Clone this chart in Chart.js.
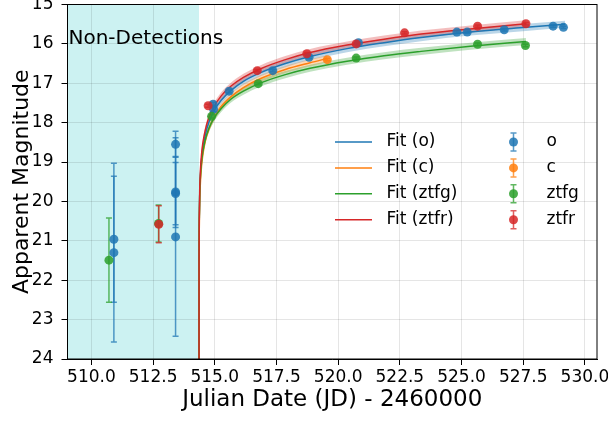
<!DOCTYPE html>
<html lang="en">
<head>
<meta charset="utf-8">
<title>Light curve - power-law rise fit</title>
<script src="https://cdn.jsdelivr.net/npm/chart.js@4.4.1/dist/chart.umd.min.js"></script>
<style>
	html, body { margin: 0; background: #fff; }
	#wrap { width: 608px; height: 423px; }
</style>
</head>
<body>
<div id="wrap"><canvas id="lc"></canvas></div>
<script>
// x is JD - 2460000, y is apparent magnitude (brighter is up)
const t0 = 514.36;   // fitted first-light epoch, everything left of it is non-detections
const xTicks = [510.0, 512.5, 515.0, 517.5, 520.0, 522.5, 525.0, 527.5, 530.0];
const yTicks = [15, 16, 17, 18, 19, 20, 21, 22, 23, 24];

// photometry per filter (early points with big bars are the non-detections)
const oT   = [510.91, 510.91, 513.41, 513.41, 513.41, 513.41, 514.93, 514.95, 515.58, 517.35, 518.82, 520.82, 524.81, 525.23, 526.73, 528.71, 529.13];
const oMag = [20.96, 21.30, 18.55, 19.76, 19.80, 20.90, 17.53, 17.66, 17.20, 16.68, 16.34, 15.97, 15.70, 15.70, 15.64, 15.55, 15.58];
const oErr = [1.60, 2.27, 0.33, 0.90, 0.79, 2.52, 0.05, 0.06, 0.04, 0.03, 0.03, 0.03, 0.03, 0.03, 0.03, 0.03, 0.03];

const cT   = [519.56];
const cMag = [16.40];
const cErr = [0.03];

const gT   = [510.71, 512.72, 514.87, 516.76, 520.73, 525.65, 527.59];
const gMag = [21.49, 20.56, 17.84, 17.01, 16.36, 16.01, 16.04];
const gErr = [1.07, 0.47, 0.04, 0.03, 0.03, 0.03, 0.03];

const rT   = [512.73, 514.73, 516.72, 518.73, 520.73, 522.69, 525.65, 527.61];
const rMag = [20.58, 17.57, 16.68, 16.25, 16.00, 15.72, 15.55, 15.49];
const rErr = [0.47, 0.04, 0.03, 0.03, 0.03, 0.03, 0.03, 0.03];

// fitted curves, sampled densely right after t0 where they shoot up
const fitT = [514.36, 514.362, 514.37, 514.39, 514.42, 514.46, 514.51, 514.61, 514.76, 514.96, 515.26, 515.66, 516.16, 516.86, 517.86, 518.86, 520.36, 521.86, 523.36, 525.36, 527.61, 529.20];
const fitO = [26, 21.65, 20.54, 19.78, 19.30, 18.95, 18.67, 18.32, 17.99, 17.71, 17.43, 17.18, 16.95, 16.73, 16.50, 16.32, 16.12, 15.97, 15.84, 15.70, 15.58, 15.50];
const fitCT = [514.36, 514.362, 514.37, 514.39, 514.42, 514.46, 514.51, 514.61, 514.76, 514.96, 515.26, 515.66, 516.16, 516.86, 517.86, 518.86, 519.56];
const fitC = [26, 21.84, 20.72, 19.96, 19.48, 19.12, 18.84, 18.48, 18.16, 17.88, 17.59, 17.34, 17.11, 16.88, 16.65, 16.48, 16.37];
const fitG = [26, 21.48, 20.47, 19.78, 19.34, 19.02, 18.76, 18.44, 18.15, 17.89, 17.64, 17.40, 17.20, 16.99, 16.78, 16.62, 16.44, 16.30, 16.19, 16.06, 15.94];
const fitR = [26, 21.49, 20.39, 19.64, 19.17, 18.82, 18.54, 18.20, 17.87, 17.60, 17.32, 17.07, 16.85, 16.63, 16.40, 16.22, 16.03, 15.88, 15.75, 15.62, 15.49];
const fitSigma = 0.09;   // half width of the fit uncertainty band, mag

const filters = [
	{ name: 'o',    rgb: '31,119,180', t: oT, mag: oMag, err: oErr, ft: fitT,  fm: fitO },
	{ name: 'c',    rgb: '255,127,14', t: cT, mag: cMag, err: cErr, ft: fitCT, fm: fitC },
	{ name: 'ztfg', rgb: '44,160,44',  t: gT, mag: gMag, err: gErr, ft: fitT,  fm: fitG },
	{ name: 'ztfr', rgb: '214,39,40',  t: rT, mag: rMag, err: rErr, ft: fitT,  fm: fitR }
];

const FONT = 'DejaVu Sans';
Chart.defaults.font.family = FONT;
Chart.defaults.color = '#000';

function pairs(xs, ys, shift) {
	return ys.map((v, i) => ({ x: xs[i], y: v + (shift || 0) }));
}

// lower order is painted later, so later filters (ztfr) end up on top
const datasets = [];
filters.forEach((f, k) => {
	// band: upper edge then lower edge filled back to it
	datasets.push({
		type: 'line', data: pairs(f.ft, f.fm, -fitSigma), borderWidth: 0, pointRadius: 0,
		cubicInterpolationMode: 'monotone', fill: false, order: 30 - k
	});
	datasets.push({
		type: 'line', data: pairs(f.ft, f.fm, fitSigma), borderWidth: 0, pointRadius: 0,
		cubicInterpolationMode: 'monotone', fill: '-1', backgroundColor: `rgba(${f.rgb},0.3)`, order: 30 - k
	});
});
filters.forEach((f, k) => {
	datasets.push({
		type: 'line', label: `Fit (${f.name})`, data: pairs(f.ft, f.fm), borderColor: `rgb(${f.rgb})`,
		borderWidth: 1.5, pointRadius: 0, cubicInterpolationMode: 'monotone', fill: false, order: 20 - k
	});
});
filters.forEach((f, k) => {
	datasets.push({
		type: 'scatter', label: f.name, data: pairs(f.t, f.mag), errors: f.err,
		errorColor: `rgba(${f.rgb},0.75)`, pointRadius: 4.5, borderWidth: 0,
		backgroundColor: `rgba(${f.rgb},0.85)`, order: 10 - k
	});
});

// cyan span for the non-detection window, under the grid
const spanPlugin = {
	id: 'span',
	beforeDraw(chart) {
		const { ctx, chartArea: a, scales: { x } } = chart;
		ctx.save();
		ctx.fillStyle = 'rgba(0,191,191,0.2)';
		ctx.fillRect(a.left, a.top, x.getPixelForValue(t0) - a.left, a.bottom - a.top);
		ctx.restore();
	}
};

const errorBarPlugin = {
	id: 'errorBars',
	beforeDatasetsDraw(chart) {
		const { ctx, chartArea: a, scales: { x, y } } = chart;
		ctx.save();
		ctx.beginPath();
		ctx.rect(a.left, a.top, a.right - a.left, a.bottom - a.top);
		ctx.clip();
		ctx.lineWidth = 1.5;
		chart.data.datasets.forEach(ds => {
			if (!ds.errors) return;
			ctx.strokeStyle = ds.errorColor;
			ds.data.forEach((p, j) => {
				const px = x.getPixelForValue(p.x);
				const top = y.getPixelForValue(p.y - ds.errors[j]);
				const bot = y.getPixelForValue(p.y + ds.errors[j]);
				ctx.beginPath();
				ctx.moveTo(px, top); ctx.lineTo(px, bot);
				ctx.moveTo(px - 3, top); ctx.lineTo(px + 3, top);
				ctx.moveTo(px - 3, bot); ctx.lineTo(px + 3, bot);
				ctx.stroke();
			});
		});
		ctx.restore();
	}
};

// frame, span label and the two column legend inside the axes
const overlayPlugin = {
	id: 'overlay',
	afterDraw(chart) {
		const { ctx, chartArea: a } = chart;
		ctx.save();
		ctx.strokeStyle = '#000';
		ctx.lineWidth = 1;
		ctx.strokeRect(a.left, a.top, a.right - a.left, a.bottom - a.top);

		ctx.fillStyle = '#000';
		ctx.font = `20px "${FONT}"`;
		ctx.textBaseline = 'alphabetic';
		ctx.fillText('Non-Detections', a.left + 1, a.top + 39.5);

		ctx.font = `17px "${FONT}"`;
		ctx.textBaseline = 'middle';
		filters.forEach((f, i) => {
			const yy = a.top + 137.5 + i * 25.9;
			ctx.strokeStyle = `rgb(${f.rgb})`;
			ctx.lineWidth = 1.5;
			ctx.beginPath();
			ctx.moveTo(a.left + 267.5, yy); ctx.lineTo(a.left + 304.5, yy);
			ctx.stroke();
			ctx.fillStyle = '#000';
			ctx.fillText(`Fit (${f.name})`, a.left + 319, yy);

			const mx = a.left + 446;
			ctx.strokeStyle = `rgba(${f.rgb},0.75)`;
			ctx.beginPath();
			ctx.moveTo(mx, yy - 9); ctx.lineTo(mx, yy + 9);
			ctx.moveTo(mx - 3, yy - 9); ctx.lineTo(mx + 3, yy - 9);
			ctx.moveTo(mx - 3, yy + 9); ctx.lineTo(mx + 3, yy + 9);
			ctx.stroke();
			ctx.fillStyle = `rgba(${f.rgb},0.85)`;
			ctx.beginPath();
			ctx.arc(mx, yy, 4.5, 0, Math.PI * 2);
			ctx.fill();
			ctx.fillStyle = '#000';
			ctx.fillText(f.name, a.left + 479, yy);
		});
		ctx.restore();
	}
};

const grid = { color: 'rgba(0,0,0,0.1)', tickColor: '#000', tickLength: 6, tickWidth: 1 };

new Chart(document.getElementById('lc'), {
	type: 'scatter',
	data: { datasets },
	options: {
		responsive: true,
		maintainAspectRatio: false,
		animation: false,
		layout: { padding: { top: 4, right: 11, left: 0, bottom: 0 } },
		plugins: { legend: { display: false }, tooltip: { enabled: false } },
		scales: {
			x: {
				type: 'linear', min: 509.03, max: 530.49,
				afterBuildTicks: s => { s.ticks = xTicks.map(v => ({ value: v })); },
				afterFit: s => { s.height = 64; s.paddingLeft = 0; s.paddingRight = 0; },
				ticks: { callback: v => v.toFixed(1), font: { size: 17 }, padding: 2, maxRotation: 0, autoSkip: false },
				grid, border: { color: '#000' },
				title: { display: true, text: 'Julian Date (JD) - 2460000', font: { size: 23 }, padding: { top: 0, bottom: 9 } }
			},
			y: {
				type: 'linear', reverse: true, min: 15, max: 24,
				afterBuildTicks: s => { s.ticks = yTicks.map(v => ({ value: v })); },
				afterFit: s => { s.width = 67.5; s.paddingTop = 0; s.paddingBottom = 0; },
				ticks: { font: { size: 17 }, padding: 8 },
				grid, border: { color: '#000' },
				title: { display: true, text: 'Apparent Magnitude', font: { size: 22 }, padding: { top: 9, bottom: 0 } }
			}
		}
	},
	plugins: [spanPlugin, errorBarPlugin, overlayPlugin]
});
</script>
</body>
</html>
